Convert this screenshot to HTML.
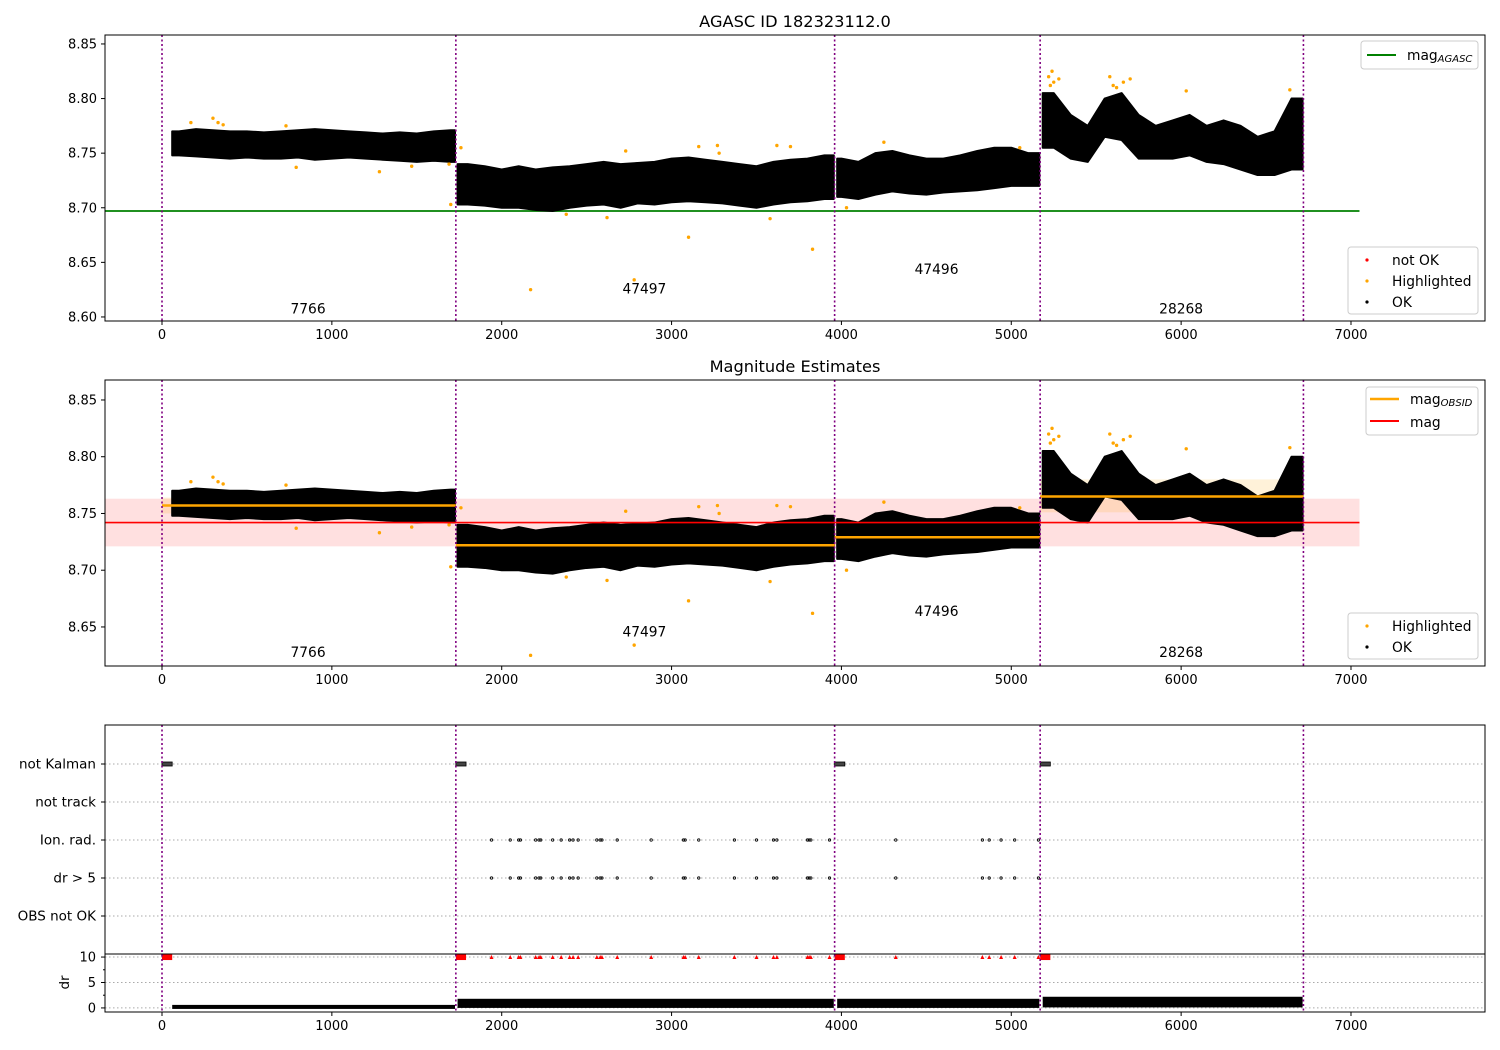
<!DOCTYPE html>
<html><head><meta charset="utf-8"><style>
body{margin:0;background:#fff;}
svg{display:block;font-family:"DejaVu Sans","Liberation Sans",sans-serif;}
</style></head>
<body>
<svg id="chart" width="1500" height="1050" xmlns="http://www.w3.org/2000/svg"></svg>
<script>
const binX=[100,200,300,400,500,600,700,800,900,1000,1100,1200,1300,1400,1500,1600,1700,
1800,1900,2000,2100,2200,2300,2400,2500,2600,2700,2800,2900,3000,3100,3200,3300,3400,3500,3600,3700,3800,3900,
4000,4100,4200,4300,4400,4500,4600,4700,4800,4900,5000,5100,
5250,5350,5450,5550,5650,5750,5850,5950,6050,6150,6250,6350,6450,6550,6650];
const binLo=[8.748,8.747,8.746,8.745,8.746,8.745,8.745,8.746,8.744,8.745,8.746,8.745,8.744,8.743,8.742,8.743,8.742,
8.703,8.702,8.700,8.700,8.698,8.697,8.700,8.702,8.703,8.700,8.704,8.703,8.705,8.706,8.705,8.704,8.702,8.700,8.703,8.705,8.706,8.708,
8.710,8.708,8.712,8.715,8.713,8.712,8.714,8.715,8.716,8.718,8.720,8.720,
8.755,8.745,8.742,8.765,8.762,8.745,8.745,8.745,8.748,8.742,8.740,8.735,8.730,8.730,8.735];
const binHi=[8.770,8.772,8.771,8.770,8.770,8.769,8.770,8.771,8.772,8.771,8.770,8.769,8.768,8.769,8.768,8.770,8.771,
8.740,8.738,8.735,8.738,8.735,8.737,8.738,8.740,8.742,8.740,8.741,8.742,8.745,8.746,8.744,8.742,8.740,8.738,8.742,8.744,8.745,8.748,
8.745,8.742,8.750,8.752,8.748,8.745,8.745,8.748,8.752,8.755,8.755,8.750,
8.805,8.785,8.775,8.800,8.805,8.785,8.775,8.780,8.785,8.775,8.780,8.775,8.765,8.770,8.800];
const hlX=[170,300,330,360,730,790,1280,1470,1690,1700,1760,2170,2380,2620,2730,2780,3100,3160,3270,3280,3580,3620,3700,3830,4030,4250,5050,5220,5230,5240,5250,5280,5580,5600,5620,5660,5700,6030,6640];
const hlY=[8.778,8.782,8.778,8.776,8.775,8.737,8.733,8.738,8.740,8.703,8.755,8.625,8.694,8.691,8.752,8.634,8.673,8.756,8.757,8.750,8.690,8.757,8.756,8.662,8.700,8.760,8.755,8.820,8.812,8.825,8.815,8.818,8.820,8.812,8.810,8.815,8.818,8.807,8.808];
const segStart=[0,1730,3960,5170];
const segEnd=[1730,3960,5170,6720];
const dataStart=[60,1740,3975,5185];
const dataEnd=[1725,3955,5165,6715];
const segMean=[8.757,8.722,8.729,8.765];
const segBandLo=[8.750,8.716,8.722,8.751];
const segBandHi=[8.764,8.728,8.736,8.780];
const segName=["7766","47497","47496","28268"];
const segLabelX=[860,2840,4560,6000];
const segLabelY1=[8.607,8.625,8.643,8.607];
const segLabelY2=[8.627,8.645,8.663,8.627];
const vlines=[0,1730,3960,5170,6720];
const flagX=[1940,2050,2100,2110,2200,2220,2230,2300,2350,2400,2420,2450,2560,2580,2590,2680,2880,3070,3080,3160,3370,3500,3600,3620,3800,3810,3820,3930,4320,4830,4870,4940,5020,5160];
const magAgasc=8.697, magAll=8.742, magLo=8.721, magHi=8.763;
const drSegLo=[0.0,0.2,0.2,0.3];
const drSegHi=[0.4,1.6,1.6,2.0];
const xTicks=[0,1000,2000,3000,4000,5000,6000,7000];
const y1Ticks=[8.60,8.65,8.70,8.75,8.80,8.85];
const y2Ticks=[8.65,8.70,8.75,8.80,8.85];
const catLabels=["not Kalman","not track","Ion. rad.","dr > 5","OBS not OK"];
const drTicks=[0,5,10];

const svg=document.getElementById('chart');
const NS='http://www.w3.org/2000/svg';
const FS=13.8;
function mk(tag,attrs,parent){const e=document.createElementNS(NS,tag);for(const k in attrs)e.setAttribute(k,attrs[k]);(parent||svg).appendChild(e);return e;}
const L=105,R=1485,xmin=-335.6,xmax=7789;
const X=v=>L+(v-xmin)/(xmax-xmin)*(R-L);
function Yf(top,bot,vmin,vmax){return v=>bot-(v-vmin)/(vmax-vmin)*(bot-top);}
const Y1=Yf(35,321,8.5963,8.8582);
const Y2=Yf(380,666,8.6156,8.8676);
const Y3=i=>764+i*38;
const Yd=Yf(954,1012,-0.8,10.6);

function xAxis(bot,name){
  const g=mk('g',{});
  
  
  xTicks.forEach(t=>{mk('line',{x1:X(t),x2:X(t),y1:bot,y2:bot+4,stroke:'#000'},g);
    const tx=mk('text',{x:X(t),y:bot+18,'font-size':13,'text-anchor':'middle'},g);tx.textContent=t;});
}
function yAxis(ticks,Y,name){
  const g=mk('g',{});
  
  
  ticks.forEach(t=>{mk('line',{x1:L-4,x2:L,y1:Y(t),y2:Y(t),stroke:'#000'},g);
    const tx=mk('text',{x:L-8,y:Y(t)+4.5,'font-size':13,'text-anchor':'end'},g);tx.textContent=t.toFixed(2);});
}
function vl(top,bot,g){vlines.forEach(v=>mk('line',{x1:X(v),x2:X(v),y1:top,y2:bot,stroke:'#800080','stroke-width':1.6,'stroke-dasharray':'2,2.5'},g));}
function scatter(Y,g){
  segStart.forEach((s,k)=>{
    const idx=binX.map((x,i)=>i).filter(i=>binX[i]>s&&binX[i]<segEnd[k]);
    const f=idx[0],l=idx[idx.length-1];
    let up=[[dataStart[k],binHi[f]]].concat(idx.map(i=>[binX[i],binHi[i]])).concat([[dataEnd[k],binHi[l]]]);
    let lo=[[dataStart[k],binLo[f]]].concat(idx.map(i=>[binX[i],binLo[i]])).concat([[dataEnd[k],binLo[l]]]);
    const d='M'+up.map(p=>X(p[0])+','+Y(p[1])).join(' L')+' L'+lo.reverse().map(p=>X(p[0])+','+Y(p[1])).join(' L')+' Z';
    const p=mk('path',{d:d,fill:'#000',stroke:'#000','stroke-width':2,'stroke-linejoin':'round'},g);
    
    
  });
  hlX.forEach((x,i)=>mk('circle',{cx:X(x),cy:Y(hlY[i]),r:1.7,fill:'orange'},g));
}
function labels(Y,ys,g){segName.forEach((n,i)=>{const t=mk('text',{x:X(segLabelX[i]),y:Y(ys[i])+4,'font-size':FS,'text-anchor':'middle'},g);t.textContent=n;});}

// Panel 1
let t=mk('text',{x:795,y:27,'font-size':16.2,'text-anchor':'middle'});t.textContent='AGASC ID 182323112.0';

let g1=mk('g',{});


mk('line',{x1:X(xmin),x2:X(7050),y1:Y1(magAgasc),y2:Y1(magAgasc),stroke:'green','stroke-width':1.8},g1);
scatter(Y1,g1);vl(35,321,g1);labels(Y1,segLabelY1,g1);
mk('rect',{x:L,y:35,width:R-L,height:286,fill:'none',stroke:'#000'},g1);
xAxis(321,'x-axis-1');yAxis(y1Ticks,Y1,'y-axis-1');
let lg=mk('g',{});


mk('rect',{x:1361,y:41,width:117,height:28,rx:3,fill:'#fff',stroke:'#ccc'},lg);
mk('line',{x1:1367,x2:1396,y1:55,y2:55,stroke:'green','stroke-width':2},lg);
t=mk('text',{x:1407,y:60,'font-size':FS},lg);t.innerHTML='mag<tspan font-size="10" font-style="italic" dy="2">AGASC</tspan>';
lg=mk('g',{});


mk('rect',{x:1348,y:247,width:130,height:67,rx:3,fill:'#fff',stroke:'#ccc'},lg);
[['red','not OK',260],['orange','Highlighted',281],['#000','OK',302]].forEach(a=>{mk('circle',{cx:1367,cy:a[2],r:1.6,fill:a[0]},lg);const tt=mk('text',{x:1392,y:a[2]+5,'font-size':FS},lg);tt.textContent=a[1];});

// Panel 2
t=mk('text',{x:795,y:372,'font-size':16.2,'text-anchor':'middle'});t.textContent='Magnitude Estimates';

let g2=mk('g',{});


mk('rect',{x:L,y:Y2(magHi),width:X(7050)-L,height:Y2(magLo)-Y2(magHi),fill:'rgba(255,0,0,0.12)'},g2);
segStart.forEach((s,i)=>mk('rect',{x:X(s),y:Y2(segBandHi[i]),width:X(segEnd[i])-X(s),height:Y2(segBandLo[i])-Y2(segBandHi[i]),fill:'rgba(255,165,0,0.15)'},g2));
scatter(Y2,g2);
segStart.forEach((s,i)=>mk('line',{x1:X(s),x2:X(segEnd[i]),y1:Y2(segMean[i]),y2:Y2(segMean[i]),stroke:'orange','stroke-width':2.5},g2));
mk('line',{x1:L,x2:X(7050),y1:Y2(magAll),y2:Y2(magAll),stroke:'red','stroke-width':1.6},g2);
vl(380,666,g2);labels(Y2,segLabelY2,g2);
mk('rect',{x:L,y:380,width:R-L,height:286,fill:'none',stroke:'#000'},g2);
xAxis(666,'x-axis-2');yAxis(y2Ticks,Y2,'y-axis-2');
lg=mk('g',{});


mk('rect',{x:1366,y:387,width:112,height:48,rx:3,fill:'#fff',stroke:'#ccc'},lg);
mk('line',{x1:1370,x2:1399,y1:399,y2:399,stroke:'orange','stroke-width':2.5},lg);
mk('line',{x1:1370,x2:1399,y1:421,y2:421,stroke:'red','stroke-width':2},lg);
t=mk('text',{x:1410,y:404,'font-size':FS},lg);t.innerHTML='mag<tspan font-size="10" font-style="italic" dy="2">OBSID</tspan>';
t=mk('text',{x:1410,y:427,'font-size':FS},lg);t.textContent='mag';
lg=mk('g',{});


mk('rect',{x:1348,y:613,width:130,height:46,rx:3,fill:'#fff',stroke:'#ccc'},lg);
[['orange','Highlighted',626],['#000','OK',647]].forEach(a=>{mk('circle',{cx:1367,cy:a[2],r:1.6,fill:a[0]},lg);const tt=mk('text',{x:1392,y:a[2]+5,'font-size':FS},lg);tt.textContent=a[1];});

// Panel 3
let g3=mk('g',{});


catLabels.forEach((c,i)=>{mk('line',{x1:L,x2:R,y1:Y3(i),y2:Y3(i),stroke:'#aaa','stroke-dasharray':'1.5,2.5'},g3);
  mk('line',{x1:L-4,x2:L,y1:Y3(i),y2:Y3(i),stroke:'#000'},g3);
  const tt=mk('text',{x:L-9,y:Y3(i)+4.5,'font-size':13.5,'text-anchor':'end'},g3);tt.textContent=c;});
drTicks.forEach(d=>{mk('line',{x1:L,x2:R,y1:Yd(d),y2:Yd(d),stroke:'#aaa','stroke-dasharray':'1.5,2.5'},g3);
  mk('line',{x1:L-4,x2:L,y1:Yd(d),y2:Yd(d),stroke:'#000'},g3);
  const tt=mk('text',{x:L-9,y:Yd(d)+4.5,'font-size':13,'text-anchor':'end'},g3);tt.textContent=d;});
[2.5,7.5].forEach(d=>mk('line',{x1:L-2,x2:L,y1:Yd(d),y2:Yd(d),stroke:'#000'},g3));
t=mk('text',{x:0,y:0,'font-size':13.5,'text-anchor':'middle',transform:`translate(69,${Yd(5)}) rotate(-90)`},g3);t.textContent='dr';
segStart.forEach((s,i)=>{mk('rect',{x:X(s),y:Y3(0)-2,width:X(s+60)-X(s),height:4,fill:'#444',stroke:'#000','stroke-width':0.8},g3);
  mk('rect',{x:X(s),y:Yd(10)-3,width:X(s+60)-X(s),height:6,fill:'red'},g3);
  mk('rect',{x:X(dataStart[i]),y:Yd(drSegHi[i])-1,width:X(dataEnd[i])-X(dataStart[i]),height:Yd(drSegLo[i])-Yd(drSegHi[i])+2,fill:'#000'},g3);});
flagX.forEach(x=>{mk('circle',{cx:X(x),cy:Y3(2),r:1.2,fill:'none',stroke:'#000','stroke-width':0.8},g3);
  mk('circle',{cx:X(x),cy:Y3(3),r:1.2,fill:'none',stroke:'#000','stroke-width':0.8},g3);
  mk('path',{d:`M${X(x)-2},${Yd(10)+2} L${X(x)+2},${Yd(10)+2} L${X(x)},${Yd(10)-2} Z`,fill:'red'},g3);});
vl(725,1012,g3);
mk('rect',{x:L,y:725,width:R-L,height:287,fill:'none',stroke:'#000'},g3);
mk('line',{x1:L,x2:R,y1:954,y2:954,stroke:'#000'},g3);
xAxis(1012,'x-axis-3');
</script>
</body></html>
